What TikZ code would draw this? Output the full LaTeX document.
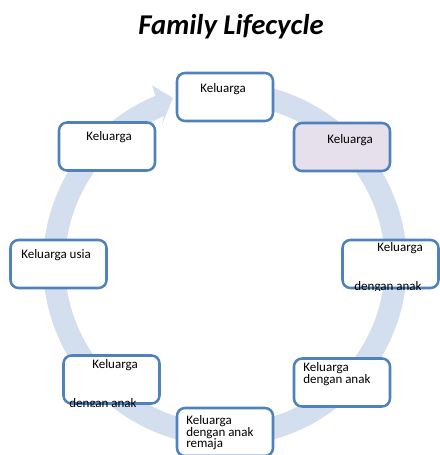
\documentclass[tikz,border=0pt]{standalone}
\usepackage{fontspec}
\setmainfont{Carlito}
\definecolor{ringblue}{HTML}{D3DFEE}
\definecolor{boxblue}{HTML}{4F81BD}
\definecolor{lav}{HTML}{E5E0EC}
\begin{document}
\begin{tikzpicture}[x=0.75pt,y=0.75pt,
  box/.style={draw=boxblue, line width=1.9pt, rounded corners=6pt, fill=white,
    minimum width=72pt, minimum height=36pt, inner sep=0pt},
  lbl/.style={inner sep=0pt, font=\fontsize{9.75}{8.8}\selectfont},
  ttl/.style={inner sep=0pt, font=\fontsize{21.5}{24}\selectfont\bfseries\itshape}]
\useasboundingbox (0,0) rectangle (440,455);
\clip (0,0) rectangle (440,455);
\node[ttl] (title) at (231,428) {Family Lifecycle};
% ring arrow
\begin{scope}[shift={(225,191)}]
\fill[ringblue] (100:182) arc[start angle=100, end angle=-247.5, radius=182]
  -- (112.2:193) -- (107.4:174) -- (114.4:152.6) -- (-247.5:160)
  arc[start angle=-247.5, end angle=100, radius=160] -- cycle;
\end{scope}
% boxes
\node[box] (top) at (225,358) {};
\node[box] (tl) at (107,308.5) {};
\node[box, fill=lav] (tr) at (342,308) {};
\node[box] (l) at (58.5,191) {};
\node[box] (r) at (390.5,191) {};
\node[box] (bl) at (111.5,75.5) {};
\node[box] (b) at (225,23) {};
\node[box] (br) at (342,72.5) {};
% texts
\node[lbl] (ttop) at (223,366) {Keluarga};
\node[lbl] (ttl2) at (109,318) {Keluarga};
\node[lbl] (ttr) at (350,315) {Keluarga};
\node[lbl, anchor=west] (tl3) at (21,200) {Keluarga usia};
\node[lbl] (tr1) at (400,207) {Keluarga};
\node[lbl] (tbl1) at (115,90) {Keluarga};
\node[lbl, anchor=north west, align=left] (tb) at (186,40) {Keluarga\\dengan anak\\remaja};
\node[lbl, anchor=north west, align=left] (tbr) at (303,93) {Keluarga\\dengan anak};
\begin{scope}
\clip ([yshift=-1pt]r.south west) rectangle (r.north east);
\node[lbl] (tr2) at (388,168) {dengan anak};
\end{scope}
\begin{scope}
\clip ([yshift=-1pt]bl.south west) rectangle (bl.north east);
\node[lbl] (tbl2) at (103,51) {dengan anak};
\end{scope}
\end{tikzpicture}
\end{document}
